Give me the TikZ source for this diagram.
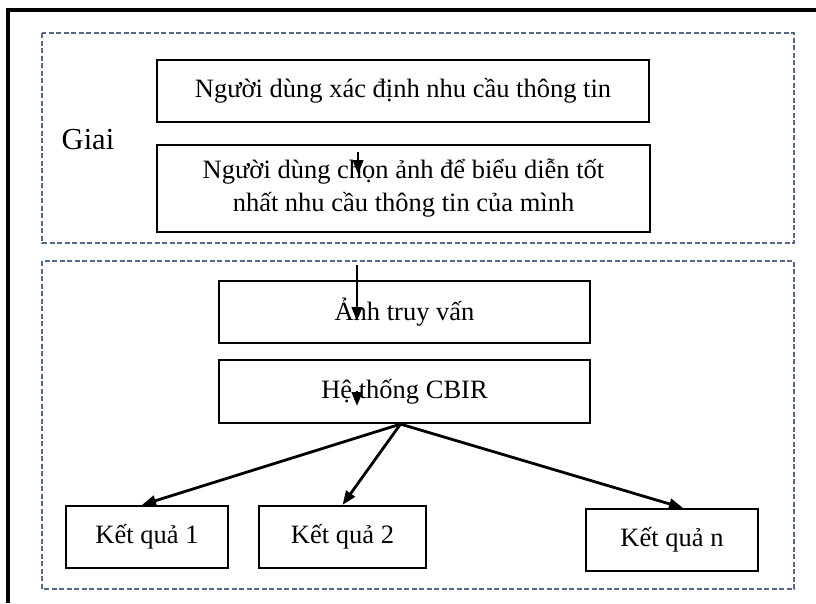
\documentclass[tikz,border=0pt]{standalone}
\usepackage{fontspec}
\setmainfont{Liberation Serif}
\usetikzlibrary{arrows.meta}
\definecolor{khung}{RGB}{84,104,138}
\begin{document}
\begin{tikzpicture}[x=1pt,y=-1pt,>={Triangle[length=14pt,width=10.5pt]},
	hop/.style={draw,line width=2.2pt,minimum height=62pt,inner sep=0pt,
		align=center,font=\fontsize{26.5}{33}\selectfont},
	vung/.style={draw=khung,line width=1.2pt,dash pattern=on 5pt off 2.5pt},
	mui/.style={->,line width=2.8pt}]
		\useasboundingbox (0,0) rectangle (816,603);
		\draw[line width=3.2pt] (816,10) -- (8,10) -- (8,603);
		\draw[vung] (42,33) rectangle (794,243);
		\draw[vung] (42,261) rectangle (794,589);
		\node (giai) at (88,140) {\fontsize{30.5}{36}\selectfont Giai};
		\node[hop,minimum width=492pt] (nhucau) at (403,91)
		{Người dùng xác định nhu cầu thông tin};
		\node[hop,minimum width=493pt,minimum height=87pt] (chonanh) at (403.5,188.5)
		{Người dùng chọn ảnh để biểu diễn tốt\\nhất nhu cầu thông tin của mình};
		\node[hop,minimum width=371pt] (truyvan) at (404.5,312) {Ảnh truy vấn};
		\node[hop,minimum width=371pt,minimum height=63pt] (cbir) at (404.5,391.5)
		{Hệ thống CBIR};
		\node[hop,minimum width=162pt] (kq1) at (147,537) {Kết quả 1};
		\node[hop,minimum width=167pt] (kq2) at (342.5,537) {Kết quả 2};
		\node[hop,minimum width=172pt] (kqn) at (672,540) {Kết quả n};
		\coordinate (a1) at (358,152); \coordinate (a2) at (358,174);
		\coordinate (b1) at (357,265); \coordinate (b2) at (357,321);
		\coordinate (c1) at (357,391); \coordinate (c2) at (357,406);
		\draw[mui] (a1) -- (a2);
		\draw[mui] (b1) -- (b2);
		\draw[mui] (c1) -- (c2);
		\coordinate (re) at ([xshift=-4pt]cbir.south);
		\draw[mui] (re) -- ([xshift=-5pt]kq1.north);
		\draw[mui] (re) -- (kq2.north);
		\draw[mui] (re) -- ([xshift=11pt]kqn.north);
		\end{tikzpicture}
\end{document}
